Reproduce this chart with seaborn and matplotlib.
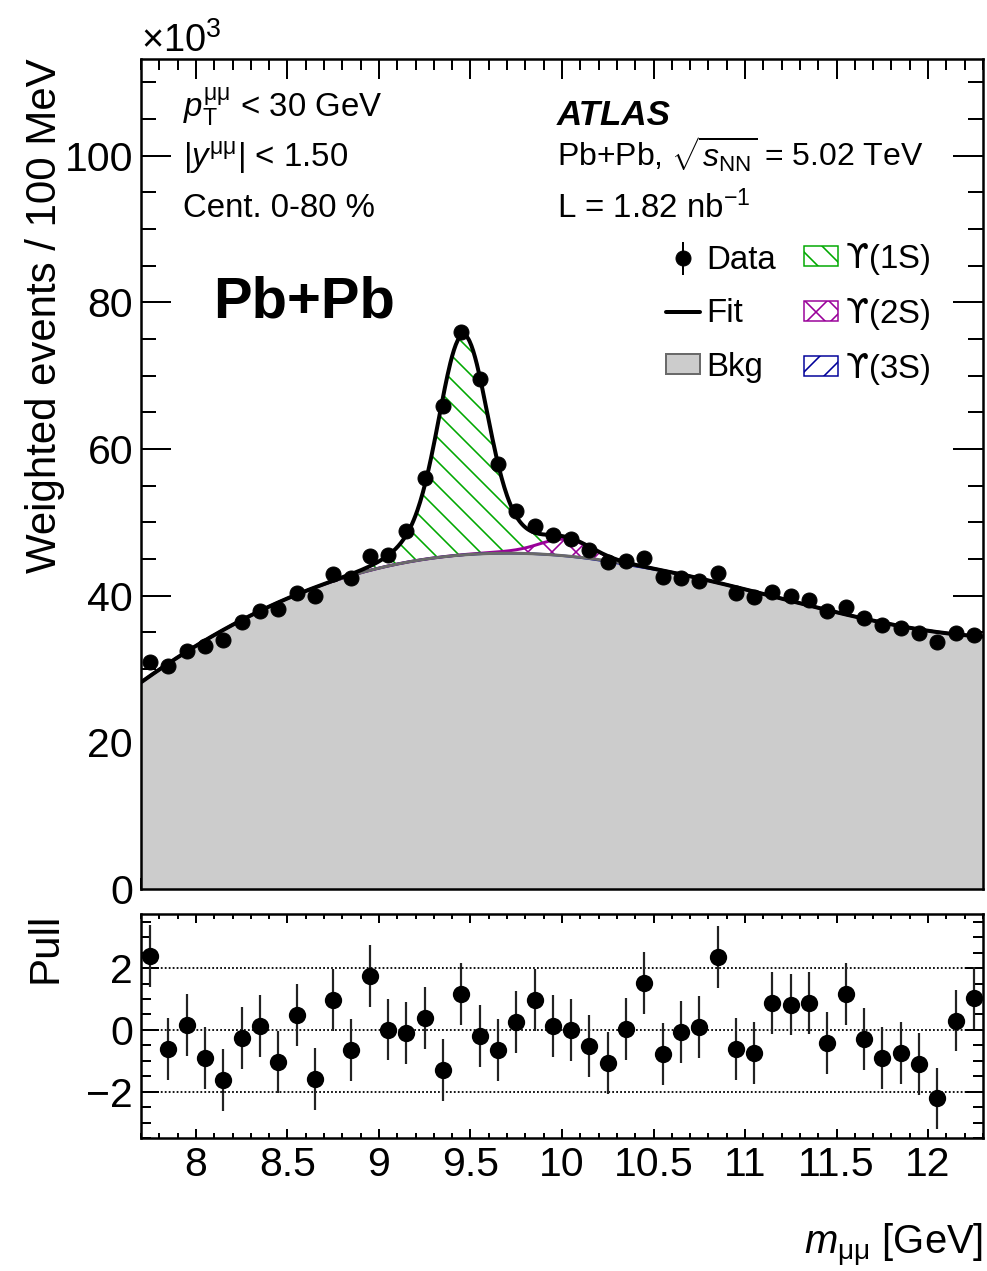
import numpy as np
import pandas as pd
import matplotlib
matplotlib.use("Agg")
import matplotlib.pyplot as plt
from matplotlib.patches import Patch
from matplotlib.lines import Line2D
from matplotlib.ticker import MultipleLocator, FormatStrFormatter
import seaborn as sns

# ---------------------------------------------------------------- data
# dimuon invariant mass, 100 MeV bins between 7.7 and 12.3 GeV
mass_lo, mass_hi, bin_width = 7.7, 12.3, 0.1
bin_centres = np.round(np.arange(mass_lo + bin_width / 2, mass_hi, bin_width), 2)

# weighted events per bin (x10^3)
counts = np.array([
    31.0, 30.4, 32.45, 33.1, 33.95, 36.35, 37.9, 38.2, 40.4, 39.9,
    42.9, 42.45, 45.4, 45.6, 48.8, 56.1, 65.9, 76.0, 69.5, 58.0,
    51.6, 49.5, 48.3, 47.7, 46.2, 44.6, 44.8, 45.2, 42.6, 42.45,
    42.0, 43.1, 40.4, 39.85, 40.45, 39.95, 39.4, 37.9, 38.5, 37.0,
    36.0, 35.55, 34.85, 33.7, 34.85, 34.7,
])
count_err = np.array([
    0.61, 0.61, 0.63, 0.63, 0.64, 0.66, 0.68, 0.68, 0.70, 0.69,
    0.72, 0.72, 0.74, 0.74, 0.77, 0.82, 0.89, 0.96, 0.92, 0.84,
    0.79, 0.77, 0.76, 0.76, 0.75, 0.73, 0.74, 0.74, 0.72, 0.72,
    0.71, 0.72, 0.70, 0.69, 0.70, 0.70, 0.69, 0.68, 0.68, 0.67,
    0.66, 0.66, 0.65, 0.64, 0.65, 0.65,
])
# (data - fit) / sigma
pulls = np.array([
    2.39, -0.62, 0.15, -0.90, -1.63, -0.27, 0.13, -1.03, 0.48, -1.59,
    0.97, -0.64, 1.74, 0.01, -0.11, 0.39, -1.31, 1.16, -0.21, -0.66,
    0.25, 0.96, 0.12, 0.00, -0.53, -1.07, 0.03, 1.52, -0.77, -0.08,
    0.09, 2.35, -0.63, -0.75, 0.88, 0.82, 0.88, -0.42, 1.15, -0.29,
    -0.91, -0.74, -1.11, -2.22, 0.30, 1.03,
])

ups_states = ["1S", "2S", "3S"]
ups_mass = [9.460, 10.023, 10.355]

# ---------------------------------------------------------------- model
sigma_1s = 0.125          # core resolution of the 1S peak
core_fraction = 0.78
wide_width_ratio = 1.84
bkg_order = 4


def peak_shape(m, mu, sigma):
    z = (m - mu) / sigma
    zw = z / wide_width_ratio
    return core_fraction * np.exp(-0.5 * z * z) + (1 - core_fraction) * np.exp(-0.5 * zw * zw)


def design(m):
    shapes = [peak_shape(m, mu, sigma_1s * mu / ups_mass[0]) for mu in ups_mass]
    u = (m - 10.0) / 2.3
    cheb = np.polynomial.chebyshev.chebvander(u, bkg_order)
    return np.column_stack(shapes + [cheb])


# fitted curve at the bin centres follows from pull = (data - fit) / sigma
fit_at_bins = counts - pulls * count_err
w = 1.0 / count_err
coef, *_ = np.linalg.lstsq(design(bin_centres) * w[:, None], fit_at_bins * w, rcond=None)

mm = np.linspace(mass_lo, mass_hi, 921)
X = design(mm)
sig = {s: X[:, i] * coef[i] for i, s in enumerate(ups_states)}
bkg = X[:, 3:] @ coef[3:]
c3 = bkg + sig["3S"]
c2 = c3 + sig["2S"]
total = c2 + sig["1S"]

curves = pd.DataFrame({"m": mm, "bkg": bkg, "c3": c3, "c2": c2, "fit": total})

# ---------------------------------------------------------------- style
sns.set_theme(style="ticks")
plt.rcParams["font.family"] = ["Liberation Sans", "DejaVu Sans"]
plt.rcParams["mathtext.fontset"] = "custom"
plt.rcParams["mathtext.rm"] = "Liberation Sans"
plt.rcParams["mathtext.it"] = "Liberation Sans:italic"
plt.rcParams["mathtext.bf"] = "Liberation Sans:bold"
plt.rcParams["mathtext.sf"] = "DejaVu Sans"
plt.rcParams["hatch.linewidth"] = 1.6
plt.rcParams["axes.linewidth"] = 2.5
for key in ("text.color", "axes.labelcolor", "xtick.color", "ytick.color",
            "axes.edgecolor", "xtick.labelcolor", "ytick.labelcolor"):
    plt.rcParams[key] = "black"

W, H, DPI = 987, 1271, 72
fig = plt.figure(figsize=(W / DPI, H / DPI), dpi=DPI)
fig.patch.set_facecolor("white")


def fx(x):
    return x / W


def fy(y):
    return 1 - y / H


ax = fig.add_axes([fx(141), fy(889), fx(983) - fx(141), fy(59) - fy(889)])
ax2 = fig.add_axes([fx(141), fy(1138), fx(983) - fx(141), fy(914) - fy(1138)])

GREY_FILL = "#cccccc"
GREY_LINE = "#6a6a6a"
GREEN = "#00a800"
MAGENTA = "#990099"
NAVY = "#000099"

# ---------------------------------------------------------------- main panel
ax.fill_between(curves["m"], 0, curves["bkg"], facecolor=GREY_FILL, lw=0, zorder=1)
ax.fill_between(curves["m"], curves["bkg"], curves["c3"], facecolor="none",
                edgecolor=NAVY, hatch="/", lw=0, zorder=2)
ax.fill_between(curves["m"], curves["c3"], curves["c2"], facecolor="none",
                edgecolor=MAGENTA, hatch="x", lw=0, zorder=2)
ax.fill_between(curves["m"], curves["c2"], curves["fit"], facecolor="none",
                edgecolor=GREEN, hatch="\\", lw=0, zorder=2)

sns.lineplot(data=curves, x="m", y="c2", ax=ax, color=MAGENTA, lw=3,
             estimator=None, sort=False, zorder=3)
sns.lineplot(data=curves, x="m", y="c3", ax=ax, color=NAVY, lw=2.5,
             estimator=None, sort=False, zorder=3)
sns.lineplot(data=curves, x="m", y="bkg", ax=ax, color=GREY_LINE, lw=3,
             estimator=None, sort=False, zorder=4)
sns.lineplot(data=curves, x="m", y="fit", ax=ax, color="black", lw=4,
             estimator=None, sort=False, zorder=5)

data_handle = ax.errorbar(bin_centres, counts, yerr=count_err, fmt="o", ms=15,
                          color="black", mec="black", elinewidth=2, capsize=0,
                          zorder=6, label="Data")

ax.set_xlim(mass_lo, mass_hi)
ax.set_ylim(0, 113.2)
ax.set_xlabel("")
ax.set_ylabel("")
ax.xaxis.set_major_locator(MultipleLocator(0.5))
ax.xaxis.set_minor_locator(MultipleLocator(0.1))
ax.yaxis.set_major_locator(MultipleLocator(20))
ax.yaxis.set_minor_locator(MultipleLocator(5))
ax.tick_params(which="both", direction="in", top=True, right=True, width=2,
               color="black", labelcolor="black", labelbottom=False,
               labelsize=41, pad=8)
ax.tick_params(axis="x", which="major", length=20)
ax.tick_params(axis="x", which="minor", length=11)
ax.tick_params(axis="y", which="major", length=30)
ax.tick_params(axis="y", which="minor", length=15)
for sp in ax.spines.values():
    sp.set_visible(True)
    sp.set_linewidth(2.5)
    sp.set_color("black")

# legend: two columns, each laid out on its own so the rows line up
legend_style = dict(loc="upper left", bbox_transform=fig.transFigure, frameon=False,
                    fontsize=33, handlelength=1.03, handleheight=0.57,
                    handletextpad=0.2, borderpad=0, borderaxespad=0, numpoints=1)
left_handles = [
    data_handle,
    Line2D([], [], color="black", lw=4),
    Patch(facecolor=GREY_FILL, edgecolor=GREY_LINE, lw=2),
]
right_handles = [
    Patch(facecolor="white", edgecolor=GREEN, hatch="\\", lw=1.5),
    Patch(facecolor="white", edgecolor=MAGENTA, hatch="x", lw=1.5),
    Patch(facecolor="white", edgecolor=NAVY, hatch="/", lw=1.5),
]
leg_left = ax.legend(left_handles, ["Data", "Fit", "Bkg"],
                     bbox_to_anchor=(fx(666), fy(245)), labelspacing=0.68, **legend_style)
ax.add_artist(leg_left)
leg_right = ax.legend(right_handles, ["$\\mathsf{\u03d2}$(%s)" % s for s in ups_states],
                      bbox_to_anchor=(fx(804), fy(241)), labelspacing=0.57,
                      **legend_style)
for leg in (leg_left, leg_right):
    for t in leg.get_texts():
        t.set_color("black")

# annotations
fig.text(fx(141), fy(52), r"$\times$10$^{3}$", fontsize=38, va="baseline")
fig.text(fx(183), fy(117), r"$p_{\mathrm{T}}^{\mathrm{\mu\mu}}$ < 30 GeV", fontsize=33,
         va="baseline")
fig.text(fx(183), fy(167), r"|$y^{\mathrm{\mu\mu}}$| < 1.50", fontsize=33, va="baseline")
fig.text(fx(183), fy(217), "Cent. 0-80 %", fontsize=33, va="baseline")
fig.text(fx(213), fy(318), "Pb+Pb", fontsize=58, fontweight="bold", va="baseline")
fig.text(fx(557), fy(125), "ATLAS", fontsize=35, fontweight="bold", fontstyle="italic",
         va="baseline")
fig.text(fx(557), fy(167), r"Pb+Pb, $\sqrt{s_{\mathrm{NN}}}$ = 5.02 TeV", fontsize=32,
         va="baseline")
fig.text(fx(557), fy(218), r"L = 1.82 nb$^{\mathrm{-1}}$", fontsize=33, va="baseline")

fig.text(fx(45), fy(58), "Weighted events / 100 MeV", fontsize=42, rotation=90,
         ha="center", va="top")
fig.text(fx(46), fy(913), "Pull", fontsize=42, rotation=90, ha="center", va="top")
fig.text(fx(983), fy(1254), r"$m_{\mathrm{\mu\mu}}$ [GeV]", fontsize=40, ha="right",
         va="baseline")

# ---------------------------------------------------------------- pull panel
for level in (-2, 0, 2):
    ax2.axhline(level, color="black", lw=1.8, ls=(0, (1, 1.2)), zorder=1)
ax2.errorbar(bin_centres, pulls, yerr=np.ones_like(pulls), fmt="none",
             ecolor="#222222", elinewidth=2.2, capsize=0, zorder=2)
sns.scatterplot(x=bin_centres, y=pulls, ax=ax2, s=300, color="black",
                linewidth=0, zorder=3)

ax2.set_xlim(mass_lo, mass_hi)
ax2.set_ylim(-3.5, 3.75)
ax2.set_xlabel("")
ax2.set_ylabel("")
ax2.xaxis.set_major_locator(MultipleLocator(0.5))
ax2.xaxis.set_minor_locator(MultipleLocator(0.1))
ax2.xaxis.set_major_formatter(FormatStrFormatter("%g"))
ax2.yaxis.set_major_locator(MultipleLocator(2))
ax2.yaxis.set_minor_locator(MultipleLocator(0.5))
ax2.tick_params(which="both", direction="in", top=True, right=True, width=2,
                color="black", labelcolor="black", labelsize=41, pad=8)
ax2.tick_params(axis="x", which="major", length=9)
ax2.tick_params(axis="x", which="minor", length=5)
ax2.tick_params(axis="y", which="major", length=18)
ax2.tick_params(axis="y", which="minor", length=10)
for sp in ax2.spines.values():
    sp.set_visible(True)
    sp.set_linewidth(2.5)
    sp.set_color("black")

fig.savefig("out.png", dpi=DPI, facecolor="white")
